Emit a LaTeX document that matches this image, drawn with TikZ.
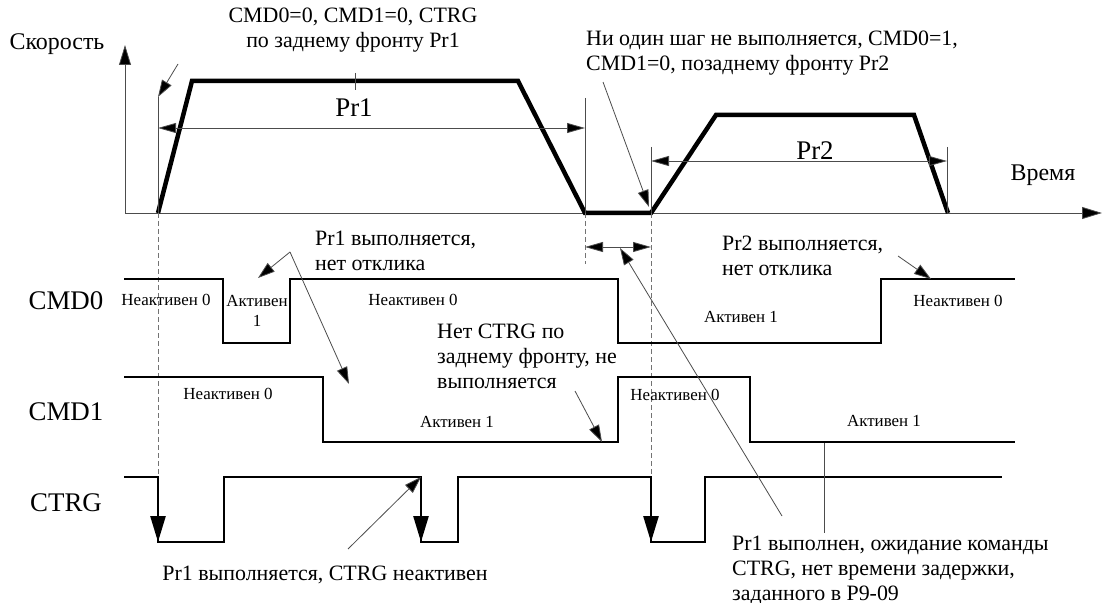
\documentclass[tikz,border=0pt]{standalone}
\usepackage{fontspec}
\setmainfont{Liberation Serif}
\usetikzlibrary{arrows.meta}
\begin{document}
\begin{tikzpicture}[x=1bp,y=-1bp,
  sig/.style={line width=2.6bp, line join=miter, line cap=rect},
  prof/.style={line width=4.5bp, line join=miter},
  thinln/.style={line width=0.8bp, draw=black!70},
  dashv/.style={line width=0.7bp, draw=black!55, dash pattern=on 5bp off 3bp},
  ann/.style={thinln, -{Triangle[length=17bp,width=11bp,fill=black]}},
  dimarr/.style={thinln, {Triangle[length=18bp,width=10bp,fill=black]}-{Triangle[length=18bp,width=10bp,fill=black]}},
  bigarr/.style={sig, -{Triangle[length=26bp,width=15bp]}},
  biglbl/.style={font=\fontsize{27}{30}\selectfont, inner sep=0},
  axlbl/.style={font=\fontsize{24}{28}\selectfont, inner sep=0},
  txt/.style={font=\fontsize{22}{25}\selectfont, inner sep=0, align=left},
  small/.style={font=\fontsize{17}{20}\selectfont, inner sep=0, align=center},
]
\useasboundingbox (0,0) rectangle (1102,603);

% ---------- axes ----------
\coordinate (o) at (125,213);
\coordinate (ytop) at (125,45);
\coordinate (xend) at (1102,213);
\draw[thinln, -{Triangle[length=20bp,width=12bp,fill=black]}] (o) -- (ytop);
\draw[thinln, -{Triangle[length=20bp,width=12bp,fill=black]}] (o) -- (xend);
\node[axlbl] (speed) at (57,44) {Скорость};
\node[axlbl] (time) at (1043,175) {Время};

% ---------- speed profile ----------
\coordinate (p0) at (158,213);
\coordinate (p1) at (192,81);
\coordinate (p2) at (518,81);
\coordinate (p3) at (585,213);
\coordinate (p4) at (651,213);
\coordinate (p5) at (716,115);
\coordinate (p6) at (914,115);
\coordinate (p7) at (948,213);
\draw[prof] (p0) -- (p1) -- (p2) -- (p3) -- (p4) -- (p5) -- (p6) -- (p7);

% dimension lines
\coordinate (d1t) at (158,97);
\coordinate (d2t) at (585,98);
\coordinate (d3t) at (651,147);
\coordinate (d4t) at (947,147);
\coordinate (d4b) at (947,213);
\draw[thinln] (d1t) -- (p0);
\draw[thinln] (d2t) -- (p3);
\draw[thinln] (d3t) -- (p4);
\draw[thinln] (d4t) -- (d4b);
\coordinate (r1a) at (158,128);
\coordinate (r1b) at (585,128);
\coordinate (r2a) at (651,161);
\coordinate (r2b) at (947,161);
\draw[dimarr] (r1a) -- (r1b);
\draw[dimarr] (r2a) -- (r2b);
\coordinate (tk1) at (355,73);
\coordinate (tk2) at (355,90);
\draw[thinln] (tk1) -- (tk2);
\node[biglbl] (pr1) at (354,108) {Pr1};
\node[biglbl] (pr2) at (815,151) {Pr2};

% top annotations
\node[txt, align=center] (t1) at (353,30) {CMD0=0, CMD1=0, CTRG\\по заднему фронту Pr1};
\node[txt, anchor=west] (t2) at (586,53) {Ни один шаг не выполняется, CMD0=1,\\CMD1=0, позаднему фронту Pr2};
\coordinate (a1s) at (178,64);
\draw[ann] (a1s) -- (d1t);
\coordinate (a2s) at (603,82);
\coordinate (a2e) at (649,207);
\draw[ann] (a2s) -- (a2e);

% dashed guides
\coordinate (g1) at (158,477);
\coordinate (g2) at (585,264);
\coordinate (g3) at (651,477);
\draw[dashv] (p0) -- (g1);
\draw[dashv] (p3) -- (g2);
\draw[dashv] (p4) -- (g3);
\coordinate (w1) at (585,247);
\coordinate (w2) at (651,247);
\draw[dimarr] (w1) -- (w2);

% ---------- signals ----------
\node[biglbl] (cmd0) at (66,301) {CMD0};
\node[biglbl] (cmd1) at (66,412) {CMD1};
\node[biglbl] (ctrg) at (66,503) {CTRG};

\draw[sig] (125,279) -- (223,279) -- (223,343) -- (290,343) -- (290,279) -- (618,279)
  -- (618,343) -- (881,343) -- (881,279) -- (1014,279);
\draw[sig] (125,377) -- (323,377) -- (323,442) -- (618,442) -- (618,377) -- (750,377)
  -- (750,442) -- (1014,442);
\draw[sig] (125,477) -- (158,477) -- (158,542) -- (224,542) -- (224,477) -- (421,477)
  -- (421,542) -- (458,542) -- (458,477) -- (651,477) -- (651,542) -- (705,542)
  -- (705,477) -- (1001,477);
\coordinate (c1t) at (158,477); \coordinate (c1b) at (158,542);
\coordinate (c2t) at (421,477); \coordinate (c2b) at (421,542);
\coordinate (c3t) at (651,477); \coordinate (c3b) at (651,542);
\draw[bigarr] (c1t) -- (c1b);
\draw[bigarr] (c2t) -- (c2b);
\draw[bigarr] (c3t) -- (c3b);

% state labels
\node[small] (s1) at (166,300) {Неактивен 0};
\node[small] (s2) at (257,311) {Активен\\1};
\node[small] (s3) at (413,300) {Неактивен 0};
\node[small] (s4) at (741,317) {Активен 1};
\node[small] (s5) at (958,301) {Неактивен 0};
\node[small] (s6) at (228,394) {Неактивен 0};
\node[small] (s7) at (457,422) {Активен 1};
\node[small] (s8) at (675,395) {Неактивен 0};
\node[small] (s9) at (884,421) {Активен 1};

% signal annotations
\node[txt, anchor=west] (t3) at (315,251) {Pr1 выполняется,\\нет отклика};
\coordinate (a3s) at (290,252);
\coordinate (a3e) at (258,278);
\coordinate (a3f) at (349,384);
\draw[ann] (a3s) -- (a3e);
\draw[ann] (a3s) -- (a3f);

\node[txt, anchor=west] (t4) at (722,256) {Pr2 выполняется,\\нет отклика};
\coordinate (a4s) at (898,256);
\coordinate (a4e) at (931,279);
\draw[ann] (a4s) -- (a4e);

\node[txt, anchor=west] (t5) at (437,356) {Нет CTRG по\\заднему фронту, не\\выполняется};
\coordinate (a5s) at (575,391);
\coordinate (a5e) at (602,442);
\draw[ann] (a5s) -- (a5e);

\node[txt] (t6) at (325,575) {Pr1 выполняется, CTRG неактивен};
\coordinate (a6s) at (348,549);
\draw[ann] (a6s) -- (c2t);

\node[txt, anchor=west] (t7) at (732,570) {Pr1 выполнен, ожидание команды\\CTRG, нет времени задержки,\\заданного в P9-09};
\coordinate (a7s) at (782,516);
\coordinate (a7e) at (620,248);
\draw[ann] (a7s) -- (a7e);
\coordinate (l8t) at (824,443);
\coordinate (l8b) at (824,533);
\draw[thinln] (l8t) -- (l8b);
\end{tikzpicture}
\end{document}
